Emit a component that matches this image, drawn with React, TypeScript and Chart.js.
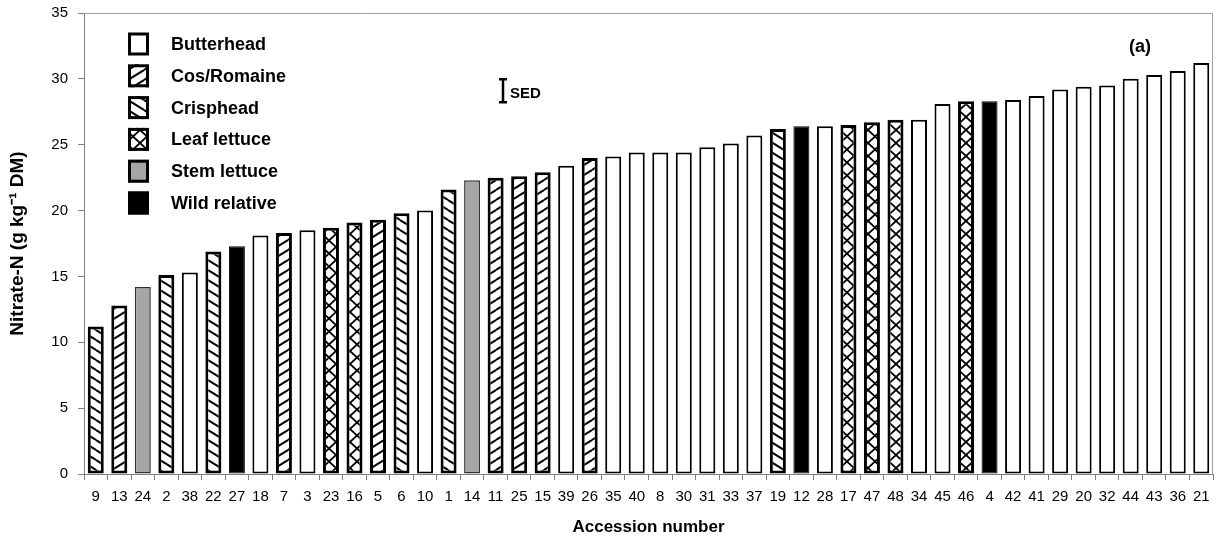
import React, { useEffect, useRef } from "react";
import { Chart, registerables } from "chart.js";

Chart.register(...registerables);

const accessions = ["9","13","24","2","38","22","27","18","7","3","23","16","5","6","10","1","14","11","25","15","39","26","35","40","8","30","31","33","37","19","12","28","17","47","48","34","45","46","4","42","41","29","20","32","44","43","36","21"];

const nitrateN = [11.2,12.8,14.2,15.1,15.3,16.9,17.3,18.1,18.3,18.5,18.7,19.1,19.3,19.8,20.0,21.6,22.3,22.5,22.6,22.9,23.4,24.0,24.1,24.4,24.4,24.4,24.8,25.1,25.7,26.2,26.4,26.4,26.5,26.7,26.9,26.9,28.1,28.3,28.3,28.4,28.7,29.2,29.4,29.5,30.0,30.3,30.6,31.2];

const lettuceType = ["Crisphead","Cos/Romaine","Stem lettuce","Crisphead","Butterhead","Crisphead","Wild relative","Butterhead","Cos/Romaine","Butterhead","Leaf lettuce","Leaf lettuce","Cos/Romaine","Crisphead","Butterhead","Crisphead","Stem lettuce","Cos/Romaine","Cos/Romaine","Cos/Romaine","Butterhead","Cos/Romaine","Butterhead","Butterhead","Butterhead","Butterhead","Butterhead","Butterhead","Butterhead","Crisphead","Wild relative","Butterhead","Leaf lettuce","Leaf lettuce","Leaf lettuce","Butterhead","Butterhead","Leaf lettuce","Wild relative","Butterhead","Butterhead","Butterhead","Butterhead","Butterhead","Butterhead","Butterhead","Butterhead","Butterhead"];

const typeNames = ["Butterhead","Cos/Romaine","Crisphead","Leaf lettuce","Stem lettuce","Wild relative"];

const yTicks = [0,5,10,15,20,25,30,35];
const sedValue = 1.75;
const sedCenter = 29.1;
const panelLabel = "(a)";

function hatch(kind: string): CanvasPattern | string {
  const w = kind === "Leaf lettuce" ? 14 : 16;
  const h = kind === "Leaf lettuce" ? 13 : 10;
  const c = document.createElement("canvas");
  c.width = w;
  c.height = h;
  const ctx = c.getContext("2d")!;
  ctx.fillStyle = "#ffffff";
  ctx.fillRect(0, 0, w, h);
  ctx.strokeStyle = "#000000";
  ctx.lineWidth = kind === "Leaf lettuce" ? 1.8 : 2;
  const offs = [[0,0],[-w,0],[w,0],[0,-h],[0,h]];
  const up = () => {
    for (const [dx, dy] of offs) {
      ctx.beginPath();
      ctx.moveTo(dx, h + dy);
      ctx.lineTo(w + dx, dy);
      ctx.stroke();
    }
  };
  const down = () => {
    for (const [dx, dy] of offs) {
      ctx.beginPath();
      ctx.moveTo(dx, dy);
      ctx.lineTo(w + dx, h + dy);
      ctx.stroke();
    }
  };
  if (kind === "Cos/Romaine") up();
  if (kind === "Crisphead") down();
  if (kind === "Leaf lettuce") { up(); down(); }
  const p = ctx.createPattern(c, "repeat");
  return p || "#ffffff";
}

function fillFor(kind: string): CanvasPattern | string {
  if (kind === "Butterhead") return "#ffffff";
  if (kind === "Stem lettuce") return "#a6a6a6";
  if (kind === "Wild relative") return "#000000";
  return hatch(kind);
}

function borderWidthFor(kind: string): number {
  if (kind === "Butterhead") return 2;
  if (kind === "Stem lettuce") return 1.5;
  if (kind === "Wild relative") return 1;
  return 3;
}

function borderColorFor(kind: string): string {
  if (kind === "Stem lettuce") return "#333333";
  return "#000000";
}

const FONT = "'Liberation Sans', Arial, sans-serif";

export default function App() {
  const ref = useRef<HTMLCanvasElement | null>(null);

  useEffect(() => {
    document.body.style.margin = "0";
    const fills: Record<string, CanvasPattern | string> = {};
    typeNames.forEach((t) => (fills[t] = fillFor(t)));

    const overlay = {
      id: "overlay",
      beforeDatasetsDraw(chart: any) {
        const { ctx, chartArea } = chart;
        ctx.save();
        ctx.strokeStyle = "#a0a0a0";
        ctx.lineWidth = 1;
        ctx.beginPath();
        ctx.moveTo(chartArea.left, chartArea.top + 0.5);
        ctx.lineTo(chartArea.right - 0.5, chartArea.top + 0.5);
        ctx.lineTo(chartArea.right - 0.5, chartArea.bottom);
        ctx.stroke();
        ctx.restore();
      },
      afterDraw(chart: any) {
        const { ctx } = chart;
        const y = chart.scales.y;
        ctx.save();
        // legend
        typeNames.forEach((t, i) => {
          const cy = 44 + i * 31.8;
          const bx = 128, bw = 21, bh = 23;
          const by = cy - bh / 2;
          ctx.fillStyle = fills[t];
          ctx.fillRect(bx, by, bw, bh);
          ctx.strokeStyle = "#000";
          ctx.lineWidth = 3;
          ctx.strokeRect(bx + 1.5, by + 1.5, bw - 3, bh - 3);
          ctx.fillStyle = "#000";
          ctx.font = "bold 18px " + FONT;
          ctx.textBaseline = "middle";
          ctx.textAlign = "left";
          ctx.fillText(t, 171, cy + 1);
        });
        // SED bar
        const sx = 503;
        const yt = y.getPixelForValue(sedCenter + sedValue / 2);
        const yb = y.getPixelForValue(sedCenter - sedValue / 2);
        ctx.strokeStyle = "#000";
        ctx.lineWidth = 2.5;
        ctx.beginPath();
        ctx.moveTo(sx, yt);
        ctx.lineTo(sx, yb);
        ctx.moveTo(sx - 4, yt);
        ctx.lineTo(sx + 4, yt);
        ctx.moveTo(sx - 4, yb);
        ctx.lineTo(sx + 4, yb);
        ctx.stroke();
        ctx.fillStyle = "#000";
        ctx.font = "bold 15px " + FONT;
        ctx.textBaseline = "middle";
        ctx.textAlign = "left";
        ctx.fillText("SED", 510, (yt + yb) / 2 + 3);
        // panel label
        ctx.font = "bold 18px 'Liberation Sans Narrow', " + FONT;
        ctx.textAlign = "center";
        ctx.fillText(panelLabel, 1140, 47);
        ctx.restore();
      },
    };

    const chart = new Chart(ref.current!, {
      type: "bar",
      data: {
        labels: accessions,
        datasets: [
          {
            label: "Nitrate-N",
            data: nitrateN,
            backgroundColor: lettuceType.map((t) => fills[t]) as any,
            borderColor: lettuceType.map(borderColorFor),
            borderWidth: lettuceType.map(borderWidthFor),
            borderSkipped: false,
            barPercentage: 0.68,
            categoryPercentage: 1,
          },
        ],
      },
      options: {
        animation: false,
        responsive: true,
        maintainAspectRatio: false,
        layout: { padding: { top: 13, right: 6, bottom: 0, left: 0 } },
        plugins: { legend: { display: false }, tooltip: { enabled: false } },
        scales: {
          x: {
            offset: true,
            afterFit(scale: any) {
              scale.height = 74;
              scale.paddingLeft = 0;
              scale.paddingRight = 0;
            },
            grid: {
              display: true,
              drawOnChartArea: false,
              drawTicks: true,
              tickLength: 6,
              color: "#808080",
              offset: true,
            },
            border: { display: true, color: "#808080", width: 1 },
            ticks: {
              autoSkip: false,
              maxRotation: 0,
              minRotation: 0,
              padding: 8,
              color: "#000",
              font: { family: FONT, size: 15 },
            },
            title: {
              display: true,
              text: "Accession number",
              color: "#000",
              font: { family: FONT, size: 17, weight: "bold" },
              padding: { top: 0, bottom: 10 },
            },
          },
          y: {
            min: 0,
            max: 35,
            afterFit(scale: any) {
              scale.width = 84;
              scale.paddingTop = 0;
              scale.paddingBottom = 0;
            },
            afterBuildTicks(scale: any) { scale.ticks = yTicks.map((v) => ({ value: v })); },
            grid: {
              display: true,
              drawOnChartArea: false,
              drawTicks: true,
              tickLength: 6,
              color: "#808080",
            },
            border: { display: true, color: "#808080", width: 1 },
            ticks: {
              padding: 10,
              color: "#000",
              font: { family: FONT, size: 15 },
            },
            title: {
              display: true,
              text: "Nitrate-N (g kg\u207B\u00B9 DM)",
              color: "#000",
              font: { family: FONT, size: 19, weight: "bold" },
              padding: { top: 6, bottom: 0 },
            },
          },
        },
      },
      plugins: [overlay],
    });
    return () => chart.destroy();
  }, []);

  return (
    <div style={{ width: 1219, height: 548, position: "relative" }}>
      <canvas ref={ref} />
    </div>
  );
}
